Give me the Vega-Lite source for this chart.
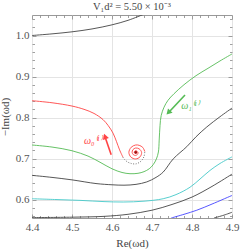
{
  "$schema": "https://vega.github.io/schema/vega-lite/v6.json",
  "width": 200,
  "height": 203,
  "autosize": {"type": "none"},
  "padding": {"left": 32, "top": 15, "right": 17, "bottom": 31},
  "background": "white",
  "config": {
    "view": {"stroke": "#999999", "strokeWidth": 1},
    "font": "Liberation Serif"
  },
  "title": {
    "text": "V₁d² = 5.50 × 10⁻³",
    "font": "Liberation Serif",
    "fontSize": 10.5,
    "fontWeight": "normal",
    "color": "#444444",
    "offset": 2,
    "anchor": "middle"
  },
  "datasets": {
    "curves": [
      {"s": "k1", "i": 0, "x": 4.4, "y": 1.0},
      {"s": "k1", "i": 1, "x": 4.45, "y": 1.004},
      {"s": "k1", "i": 2, "x": 4.5, "y": 1.009},
      {"s": "k1", "i": 3, "x": 4.55, "y": 1.016},
      {"s": "k1", "i": 4, "x": 4.6, "y": 1.026},
      {"s": "k1", "i": 5, "x": 4.64, "y": 1.037},
      {"s": "k1", "i": 6, "x": 4.68, "y": 1.052},

      {"s": "red", "i": 0, "x": 4.4, "y": 0.841},
      {"s": "red", "i": 1, "x": 4.45, "y": 0.836},
      {"s": "red", "i": 2, "x": 4.5, "y": 0.828},
      {"s": "red", "i": 3, "x": 4.53, "y": 0.82},
      {"s": "red", "i": 4, "x": 4.555, "y": 0.81},
      {"s": "red", "i": 5, "x": 4.5775, "y": 0.795},
      {"s": "red", "i": 6, "x": 4.59, "y": 0.781},
      {"s": "red", "i": 7, "x": 4.6025, "y": 0.762},
      {"s": "red", "i": 8, "x": 4.611, "y": 0.742},
      {"s": "red", "i": 9, "x": 4.619, "y": 0.721},
      {"s": "red", "i": 10, "x": 4.6275, "y": 0.703},

      {"s": "dot", "i": 0, "x": 4.6275, "y": 0.703},
      {"s": "dot", "i": 1, "x": 4.632, "y": 0.697},
      {"s": "dot", "i": 2, "x": 4.64, "y": 0.691},
      {"s": "dot", "i": 3, "x": 4.648, "y": 0.688},
      {"s": "dot", "i": 4, "x": 4.66, "y": 0.687},
      {"s": "dot", "i": 5, "x": 4.673, "y": 0.694},
      {"s": "dot", "i": 6, "x": 4.68, "y": 0.705},
      {"s": "dot", "i": 7, "x": 4.682, "y": 0.717},

      {"s": "red2", "i": 0, "x": 4.682, "y": 0.717},
      {"s": "red2", "i": 1, "x": 4.677, "y": 0.727},
      {"s": "red2", "i": 2, "x": 4.668, "y": 0.7322},
      {"s": "red2", "i": 3, "x": 4.659, "y": 0.733},
      {"s": "red2", "i": 4, "x": 4.648, "y": 0.7275},
      {"s": "red2", "i": 5, "x": 4.6422, "y": 0.715},
      {"s": "red2", "i": 6, "x": 4.6473, "y": 0.7035},
      {"s": "red2", "i": 7, "x": 4.659, "y": 0.699},
      {"s": "red2", "i": 8, "x": 4.6701, "y": 0.7041},
      {"s": "red2", "i": 9, "x": 4.674, "y": 0.715},
      {"s": "red2", "i": 10, "x": 4.6678, "y": 0.7237},
      {"s": "red2", "i": 11, "x": 4.659, "y": 0.7256},
      {"s": "red2", "i": 12, "x": 4.6523, "y": 0.7216},
      {"s": "red2", "i": 13, "x": 4.6502, "y": 0.715},
      {"s": "red2", "i": 14, "x": 4.6533, "y": 0.7094},
      {"s": "red2", "i": 15, "x": 4.659, "y": 0.7076},
      {"s": "red2", "i": 16, "x": 4.6638, "y": 0.7103},
      {"s": "red2", "i": 17, "x": 4.665, "y": 0.715},
      {"s": "red2", "i": 18, "x": 4.659, "y": 0.7194},
      {"s": "red2", "i": 19, "x": 4.6555, "y": 0.715},
      {"s": "red2", "i": 20, "x": 4.659, "y": 0.7125},
      {"s": "red2", "i": 21, "x": 4.6603, "y": 0.715},

      {"s": "green", "i": 0, "x": 4.4, "y": 0.733},
      {"s": "green", "i": 1, "x": 4.45, "y": 0.728},
      {"s": "green", "i": 2, "x": 4.5, "y": 0.719},
      {"s": "green", "i": 3, "x": 4.54, "y": 0.706},
      {"s": "green", "i": 4, "x": 4.57, "y": 0.691},
      {"s": "green", "i": 5, "x": 4.6, "y": 0.675},
      {"s": "green", "i": 6, "x": 4.625, "y": 0.666},
      {"s": "green", "i": 7, "x": 4.645, "y": 0.663},
      {"s": "green", "i": 8, "x": 4.665, "y": 0.664},
      {"s": "green", "i": 9, "x": 4.68, "y": 0.668},
      {"s": "green", "i": 10, "x": 4.693, "y": 0.675},
      {"s": "green", "i": 11, "x": 4.703, "y": 0.685},
      {"s": "green", "i": 12, "x": 4.711, "y": 0.699},
      {"s": "green", "i": 13, "x": 4.716, "y": 0.716},
      {"s": "green", "i": 14, "x": 4.718, "y": 0.745},
      {"s": "green", "i": 15, "x": 4.72, "y": 0.78},
      {"s": "green", "i": 16, "x": 4.723, "y": 0.805},
      {"s": "green", "i": 17, "x": 4.73, "y": 0.825},
      {"s": "green", "i": 18, "x": 4.74, "y": 0.842},
      {"s": "green", "i": 19, "x": 4.755, "y": 0.858},
      {"s": "green", "i": 20, "x": 4.78, "y": 0.88},
      {"s": "green", "i": 21, "x": 4.81, "y": 0.902},
      {"s": "green", "i": 22, "x": 4.84, "y": 0.92},
      {"s": "green", "i": 23, "x": 4.87, "y": 0.938},
      {"s": "green", "i": 24, "x": 4.9, "y": 0.955},

      {"s": "k2", "i": 0, "x": 4.4, "y": 0.659},
      {"s": "k2", "i": 1, "x": 4.45, "y": 0.654},
      {"s": "k2", "i": 2, "x": 4.5, "y": 0.648},
      {"s": "k2", "i": 3, "x": 4.56, "y": 0.639},
      {"s": "k2", "i": 4, "x": 4.6, "y": 0.636},
      {"s": "k2", "i": 5, "x": 4.63, "y": 0.635},
      {"s": "k2", "i": 6, "x": 4.66, "y": 0.637},
      {"s": "k2", "i": 7, "x": 4.687, "y": 0.643},
      {"s": "k2", "i": 8, "x": 4.71, "y": 0.654},
      {"s": "k2", "i": 9, "x": 4.728, "y": 0.667},
      {"s": "k2", "i": 10, "x": 4.753, "y": 0.699},
      {"s": "k2", "i": 11, "x": 4.787, "y": 0.729},
      {"s": "k2", "i": 12, "x": 4.81, "y": 0.753},
      {"s": "k2", "i": 13, "x": 4.837, "y": 0.777},
      {"s": "k2", "i": 14, "x": 4.87, "y": 0.802},
      {"s": "k2", "i": 15, "x": 4.9, "y": 0.823},

      {"s": "cyan", "i": 0, "x": 4.4, "y": 0.602},
      {"s": "cyan", "i": 1, "x": 4.46, "y": 0.6},
      {"s": "cyan", "i": 2, "x": 4.52, "y": 0.598},
      {"s": "cyan", "i": 3, "x": 4.58, "y": 0.595},
      {"s": "cyan", "i": 4, "x": 4.628, "y": 0.594},
      {"s": "cyan", "i": 5, "x": 4.68, "y": 0.596},
      {"s": "cyan", "i": 6, "x": 4.728, "y": 0.602},
      {"s": "cyan", "i": 7, "x": 4.76, "y": 0.612},
      {"s": "cyan", "i": 8, "x": 4.795, "y": 0.63},
      {"s": "cyan", "i": 9, "x": 4.82, "y": 0.65},
      {"s": "cyan", "i": 10, "x": 4.845, "y": 0.671},
      {"s": "cyan", "i": 11, "x": 4.87, "y": 0.688},
      {"s": "cyan", "i": 12, "x": 4.9, "y": 0.704},

      {"s": "k3", "i": 0, "x": 4.4, "y": 0.556},
      {"s": "k3", "i": 1, "x": 4.5, "y": 0.557},
      {"s": "k3", "i": 2, "x": 4.58, "y": 0.559},
      {"s": "k3", "i": 3, "x": 4.64, "y": 0.564},
      {"s": "k3", "i": 4, "x": 4.7, "y": 0.574},
      {"s": "k3", "i": 5, "x": 4.75, "y": 0.588},
      {"s": "k3", "i": 6, "x": 4.8, "y": 0.606},
      {"s": "k3", "i": 7, "x": 4.85, "y": 0.632},
      {"s": "k3", "i": 8, "x": 4.9, "y": 0.662},

      {"s": "blue", "i": 0, "x": 4.748, "y": 0.555},
      {"s": "blue", "i": 1, "x": 4.78, "y": 0.564},
      {"s": "blue", "i": 2, "x": 4.812, "y": 0.574},
      {"s": "blue", "i": 3, "x": 4.85, "y": 0.589},
      {"s": "blue", "i": 4, "x": 4.9, "y": 0.61},

      {"s": "k4", "i": 0, "x": 4.855, "y": 0.555},
      {"s": "k4", "i": 1, "x": 4.88, "y": 0.562},
      {"s": "k4", "i": 2, "x": 4.9, "y": 0.569}
    ],
    "arrows": [
      {"s": "red", "x": 4.598, "y": 0.709, "x2": 4.584, "y2": 0.749, "tx": 4.5825, "ty": 0.754, "dir": 340},
      {"s": "green", "x": 4.7825, "y": 0.855, "x2": 4.745, "y2": 0.816, "tx": 4.741, "ty": 0.812, "dir": 224}
    ],
    "labels": [
      {"s": "red", "x": 4.552, "y": 0.743, "t": "ω₀⁽¹⁾"},
      {"s": "green", "x": 4.795, "y": 0.828, "t": "ω₁⁽¹⁾"}
    ],
    "center": [
      {"x": 4.6595, "y": 0.715}
    ]
  },
  "resolve": {"axis": {"x": "independent", "y": "independent"}},
  "layer": [
    {
      "data": {"name": "curves"},
      "transform": [{"filter": "datum.s != 'dot'"}],
      "mark": {"type": "line", "interpolate": "catmull-rom", "strokeWidth": 0.9, "clip": true},
      "encoding": {
        "x": {
          "field": "x", "type": "quantitative",
          "scale": {"domain": [4.4, 4.9], "nice": false, "zero": false},
          "axis": {
            "orient": "bottom",
            "values": [4.4, 4.5, 4.6, 4.7, 4.8, 4.9],
            "format": ".1f",
            "labelOverlap": false,
            "labelFlush": false,
            "labelFont": "Liberation Serif",
            "labelFontSize": 11,
            "labelColor": "#555555",
            "labelPadding": 3,
            "domain": false,
            "grid": true,
            "gridColor": "#e4e4e4",
            "gridWidth": 1,
            "ticks": false,
            "title": "Re(ωd)",
            "titleFont": "Liberation Serif",
            "titleFontSize": 11,
            "titleFontWeight": "normal",
            "titleColor": "#444444",
            "titlePadding": 5
          }
        },
        "y": {
          "field": "y", "type": "quantitative",
          "scale": {"domain": [0.555, 1.05], "nice": false, "zero": false},
          "axis": {
            "orient": "left",
            "values": [0.6, 0.7, 0.8, 0.9, 1.0],
            "format": ".1f",
            "labelOverlap": false,
            "labelFlush": false,
            "labelFont": "Liberation Serif",
            "labelFontSize": 11,
            "labelColor": "#555555",
            "labelPadding": 3,
            "domain": false,
            "grid": true,
            "gridColor": "#e4e4e4",
            "gridWidth": 1,
            "ticks": false,
            "title": "−Im(ωd)",
            "titleFont": "Liberation Serif",
            "titleFontSize": 11,
            "titleFontWeight": "normal",
            "titleColor": "#444444",
            "titlePadding": 5
          }
        },
        "order": {"field": "i", "type": "quantitative"},
        "color": {
          "field": "s", "type": "nominal", "legend": null,
          "scale": {
            "domain": ["k1", "red", "red2", "green", "k2", "cyan", "k3", "blue", "k4"],
            "range": ["#444444", "#ff4444", "#ff4444", "#55bb55", "#444444", "#44c8c8", "#444444", "#4444ff", "#444444"]
          }
        }
      }
    },
    {
      "data": {"name": "curves"},
      "transform": [{"filter": "datum.s == 'dot'"}],
      "mark": {"type": "line", "interpolate": "catmull-rom", "strokeWidth": 1, "strokeDash": [1, 1.5], "color": "#777777", "clip": true},
      "encoding": {
        "x": {"field": "x", "type": "quantitative", "scale": {"domain": [4.4, 4.9], "nice": false, "zero": false}, "axis": null},
        "y": {"field": "y", "type": "quantitative", "scale": {"domain": [0.555, 1.05], "nice": false, "zero": false}, "axis": null},
        "order": {"field": "i", "type": "quantitative"}
      }
    },
    {
      "data": {"name": "center"},
      "mark": {"type": "point", "filled": true, "size": 8, "color": "#a01010", "opacity": 1},
      "encoding": {
        "x": {"field": "x", "type": "quantitative", "scale": {"domain": [4.4, 4.9], "nice": false, "zero": false}, "axis": null},
        "y": {"field": "y", "type": "quantitative", "scale": {"domain": [0.555, 1.05], "nice": false, "zero": false}, "axis": null}
      }
    },
    {
      "data": {"name": "arrows"},
      "mark": {"type": "rule", "strokeWidth": 1.6},
      "encoding": {
        "x": {"field": "x", "type": "quantitative", "scale": {"domain": [4.4, 4.9], "nice": false, "zero": false}, "axis": null},
        "y": {"field": "y", "type": "quantitative", "scale": {"domain": [0.555, 1.05], "nice": false, "zero": false}, "axis": null},
        "x2": {"field": "x2"},
        "y2": {"field": "y2"},
        "color": {"field": "s", "type": "nominal", "legend": null, "scale": {"domain": ["k1", "red", "red2", "green", "k2", "cyan", "k3", "blue", "k4"], "range": ["#444444", "#ff2020", "#ff4444", "#22aa22", "#444444", "#44c8c8", "#444444", "#4444ff", "#444444"]}}
      }
    },
    {
      "data": {"name": "arrows"},
      "mark": {"type": "point", "shape": "triangle-up", "filled": true, "size": 40, "opacity": 1},
      "encoding": {
        "x": {"field": "tx", "type": "quantitative", "scale": {"domain": [4.4, 4.9], "nice": false, "zero": false}, "axis": null},
        "y": {"field": "ty", "type": "quantitative", "scale": {"domain": [0.555, 1.05], "nice": false, "zero": false}, "axis": null},
        "angle": {"field": "dir", "type": "quantitative", "scale": null},
        "color": {"field": "s", "type": "nominal", "legend": null, "scale": {"domain": ["k1", "red", "red2", "green", "k2", "cyan", "k3", "blue", "k4"], "range": ["#444444", "#ff2020", "#ff4444", "#22aa22", "#444444", "#44c8c8", "#444444", "#4444ff", "#444444"]}}
      }
    },
    {
      "data": {"name": "labels"},
      "mark": {"type": "text", "font": "Liberation Serif", "fontStyle": "italic", "fontSize": 10, "align": "center", "baseline": "middle"},
      "encoding": {
        "x": {"field": "x", "type": "quantitative", "scale": {"domain": [4.4, 4.9], "nice": false, "zero": false}, "axis": null},
        "y": {"field": "y", "type": "quantitative", "scale": {"domain": [0.555, 1.05], "nice": false, "zero": false}, "axis": null},
        "text": {"field": "t"},
        "color": {"field": "s", "type": "nominal", "legend": null, "scale": {"domain": ["k1", "red", "red2", "green", "k2", "cyan", "k3", "blue", "k4"], "range": ["#444444", "#ff2020", "#ff4444", "#22aa22", "#444444", "#44c8c8", "#444444", "#4444ff", "#444444"]}}
      }
    },
    {
      "data": {"name": "center"},
      "mark": {"type": "point", "opacity": 0},
      "encoding": {
        "x": {
          "field": "x", "type": "quantitative",
          "scale": {"domain": [4.4, 4.9], "nice": false, "zero": false},
          "axis": {
            "orient": "top",
            "values": [4.4, 4.42, 4.44, 4.46, 4.48, 4.5, 4.52, 4.54, 4.56, 4.58, 4.6, 4.62, 4.64, 4.66, 4.68, 4.7, 4.72, 4.74, 4.76, 4.78, 4.8, 4.82, 4.84, 4.86, 4.88, 4.9],
            "labels": false, "domain": false, "grid": false, "title": null,
            "tickColor": "#888888", "tickWidth": 0.8,
            "tickSize": {"condition": {"test": "abs(datum.value*10 - round(datum.value*10)) < 0.001", "value": -4}, "value": -2.5}
          }
        },
        "y": {
          "field": "y", "type": "quantitative",
          "scale": {"domain": [0.555, 1.05], "nice": false, "zero": false},
          "axis": {
            "orient": "right",
            "values": [0.56, 0.58, 0.6, 0.62, 0.64, 0.66, 0.68, 0.7, 0.72, 0.74, 0.76, 0.78, 0.8, 0.82, 0.84, 0.86, 0.88, 0.9, 0.92, 0.94, 0.96, 0.98, 1.0, 1.02, 1.04],
            "labels": false, "domain": false, "grid": false, "title": null,
            "tickColor": "#888888", "tickWidth": 0.8,
            "tickSize": {"condition": {"test": "abs(datum.value*10 - round(datum.value*10)) < 0.001", "value": -4}, "value": -2.5}
          }
        }
      }
    },
    {
      "data": {"name": "center"},
      "mark": {"type": "point", "opacity": 0},
      "encoding": {
        "x": {
          "field": "x", "type": "quantitative",
          "scale": {"domain": [4.4, 4.9], "nice": false, "zero": false},
          "axis": {
            "orient": "bottom",
            "values": [4.4, 4.42, 4.44, 4.46, 4.48, 4.5, 4.52, 4.54, 4.56, 4.58, 4.6, 4.62, 4.64, 4.66, 4.68, 4.7, 4.72, 4.74, 4.76, 4.78, 4.8, 4.82, 4.84, 4.86, 4.88, 4.9],
            "labels": false, "domain": false, "grid": false, "title": null,
            "tickColor": "#888888", "tickWidth": 0.8,
            "tickSize": {"condition": {"test": "abs(datum.value*10 - round(datum.value*10)) < 0.001", "value": -4}, "value": -2.5}
          }
        },
        "y": {
          "field": "y", "type": "quantitative",
          "scale": {"domain": [0.555, 1.05], "nice": false, "zero": false},
          "axis": {
            "orient": "left",
            "values": [0.56, 0.58, 0.6, 0.62, 0.64, 0.66, 0.68, 0.7, 0.72, 0.74, 0.76, 0.78, 0.8, 0.82, 0.84, 0.86, 0.88, 0.9, 0.92, 0.94, 0.96, 0.98, 1.0, 1.02, 1.04],
            "labels": false, "domain": false, "grid": false, "title": null,
            "tickColor": "#888888", "tickWidth": 0.8,
            "tickSize": {"condition": {"test": "abs(datum.value*10 - round(datum.value*10)) < 0.001", "value": -4}, "value": -2.5}
          }
        }
      }
    }
  ]
}
